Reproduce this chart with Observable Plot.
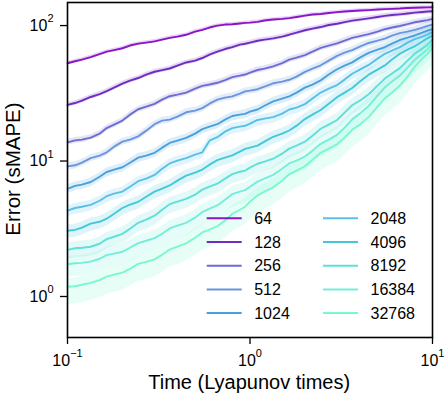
<!DOCTYPE html>
<html>
<head>
<meta charset="utf-8">
<script src="https://cdn.jsdelivr.net/npm/d3@7"></script>
<script src="https://cdn.jsdelivr.net/npm/@observablehq/plot@0.6"></script>
<style>
  html, body { margin: 0; padding: 0; background: #fff; }
  #chart svg { display: block; }
</style>
</head>
<body>
<div id="chart"></div>
<script>
const times = [0.1, 0.11, 0.12, 0.134, 0.15, 0.164, 0.18, 0.2, 0.22, 0.244, 0.27, 0.3, 0.33, 0.363, 0.4, 0.447, 0.5, 0.548, 0.6, 0.662, 0.73, 0.8, 0.88, 0.94, 1.0, 1.1, 1.2, 1.34, 1.5, 1.64, 1.8, 2.0, 2.2, 2.44, 2.7, 3.0, 3.3, 3.63, 4, 4.47, 5, 5.48, 6, 6.62, 7.3, 8.0, 8.8, 9.4, 10];

const sizes = ["64", "128", "256", "512", "1024", "2048", "4096", "8192", "16384", "32768"];

const err64    = [52.7, 54.5, 56.1, 58.5, 61.6, 64.2, 65.9, 68.0, 71.2, 73.5, 74.9, 76.5, 78.8, 81.2, 82.9, 85.5, 90.3, 93.0, 96.7, 99.8, 101.7, 102.2, 103.5, 104.6, 105.2, 106.5, 108.9, 110.8, 112.1, 113.5, 115.6, 118.4, 120.6, 121.8, 123.7, 125.6, 126.9, 128.2, 129.1, 130.0, 131.3, 132.3, 132.9, 133.6, 134.7, 135.4, 135.8, 136.2, 136.5];
const err128   = [25.95, 26.8, 27.9, 29.7, 31.2, 32.8, 34.8, 37.3, 39.2, 41.0, 43.5, 45.6, 46.9, 48.2, 50.6, 53.4, 55.1, 57.6, 61.0, 64.3, 67.1, 69.3, 72.4, 73.4, 74.9, 77.2, 78.8, 80.4, 82.9, 85.6, 88.8, 92.3, 95.0, 97.5, 100.9, 103.2, 106.1, 108.7, 110.7, 113.0, 115.6, 117.9, 119.6, 121.0, 122.7, 124.5, 125.9, 126.9, 127.6];
const err256   = [13.73, 14.2, 14.38, 14.9, 15.93, 17.5, 18.56, 19.9, 22.0, 24.1, 25.2, 26.4, 28.4, 30.1, 30.9, 32.0, 34.2, 35.9, 36.7, 37.8, 39.6, 41.6, 42.7, 43.5, 45.0, 47.0, 48.1, 50.0, 52.8, 56.0, 58.0, 60.5, 64.3, 68.4, 71.2, 73.8, 77.5, 81.2, 83.6, 86.4, 90.3, 94.0, 96.7, 99.2, 102.6, 105.8, 108.0, 109.7, 112.1];
const err512   = [9.13, 9.3, 9.72, 10.5, 10.95, 11.6, 12.76, 13.9, 14.38, 15.2, 16.76, 18.7, 19.87, 20.2, 21.27, 22.9, 23.55, 24.6, 26.5, 28.4, 29.4, 30.0, 31.45, 32.7, 33.1, 33.9, 35.4, 37.5, 38.6, 39.8, 42.0, 45.5, 48.1, 50.9, 55.1, 59.8, 63.2, 65.8, 70.0, 74.4, 77.5, 80.2, 84.4, 87.9, 90.3, 93.0, 96.7, 99.6, 101.7];
const err1024  = [6.22, 6.55, 6.69, 7.0, 7.66, 8.3, 8.63, 9.0, 9.72, 10.6, 10.95, 11.5, 12.55, 13.6, 14.14, 14.8, 15.93, 17.2, 17.94, 18.7, 20.21, 21.5, 22.0, 22.3, 23.15, 24.0, 25.6, 27.6, 28.9, 30.0, 32.0, 34.8, 36.7, 39.4, 43.5, 47.6, 50.6, 53.5, 58.0, 62.9, 66.5, 69.2, 73.6, 78.2, 81.5, 84.5, 88.8, 91.9, 94.2];
const err2048  = [4.30, 4.5, 4.60, 4.75, 5.09, 5.5, 5.74, 5.95, 6.46, 7.1, 7.41, 7.9, 8.78, 9.6, 10.06, 10.5, 11.14, 11.6, 14.14, 15.0, 16.48, 17.5, 17.94, 18.2, 18.88, 20.1, 20.56, 21.1, 22.38, 24.0, 24.8, 26.3, 28.9, 32.0, 34.2, 36.4, 39.9, 44.1, 47.3, 51.2, 57.0, 61.9, 65.4, 69.3, 74.9, 79.5, 82.9, 85.7, 89.5];
const err4096  = [3.06, 3.1, 3.22, 3.45, 3.56, 3.75, 4.08, 4.5, 4.76, 5.0, 5.45, 5.95, 6.25, 6.6, 7.16, 7.8, 8.20, 8.65, 9.40, 10.15, 10.59, 11.0, 11.73, 12.3, 12.55, 13.0, 13.90, 15.1, 15.93, 16.8, 18.25, 20.4, 22.0, 23.8, 26.5, 29.6, 32.0, 34.6, 38.6, 43.4, 47.3, 50.8, 56.1, 61.9, 66.5, 70.4, 76.2, 80.9, 84.4];
const err8192  = [2.21, 2.27, 2.29, 2.33, 2.45, 2.65, 2.76, 2.9, 3.16, 3.5, 3.69, 3.95, 4.37, 4.8, 5.01, 5.25, 5.64, 6.15, 6.46, 6.8, 7.41, 8.0, 8.34, 8.5, 8.93, 9.55, 9.89, 10.4, 11.33, 12.35, 12.98, 13.9, 15.39, 17.3, 18.56, 20.1, 22.76, 25.8, 27.9, 31.1, 36.0, 40.6, 44.2, 48.5, 55.1, 62.0, 67.6, 72.2, 78.8];
const err16384 = [1.73, 1.76, 1.77, 1.81, 1.90, 2.02, 2.07, 2.14, 2.29, 2.48, 2.58, 2.7, 2.90, 3.18, 3.33, 3.5, 3.82, 4.2, 4.45, 4.7, 5.18, 5.7, 5.94, 6.1, 6.46, 7.05, 7.41, 7.9, 8.78, 9.6, 10.06, 10.8, 11.93, 13.4, 14.38, 15.6, 17.64, 20.3, 22.38, 25.5, 30.4, 34.9, 38.6, 42.7, 48.9, 56.0, 62.1, 66.9, 73.6];
const err32768 = [1.18, 1.19, 1.22, 1.26, 1.32, 1.4, 1.45, 1.5, 1.60, 1.74, 1.80, 1.88, 2.03, 2.22, 2.33, 2.47, 2.71, 2.97, 3.11, 3.3, 3.63, 4.08, 4.37, 4.6, 5.01, 5.58, 5.94, 6.4, 7.16, 7.98, 8.49, 9.15, 10.23, 11.5, 12.34, 13.3, 14.88, 17.0, 18.56, 21.1, 25.2, 29.0, 32.0, 36.0, 42.0, 49.8, 57.0, 61.8, 68.8];

// spread of the shaded band (ratio to the line)
const bandLow  = [0.97, 0.96, 0.95, 0.94, 0.92, 0.90, 0.88, 0.85, 0.80, 0.74];
const bandHigh = [1.03, 1.04, 1.05, 1.06, 1.07, 1.08, 1.10, 1.12, 1.14, 1.15];

const xTicks = [0.1, 1, 10];
const yTicks = [1, 10, 100];

const colors = ["#8a14c8", "#6e2cc4", "#6c6cd4", "#6896e0", "#48a0dc", "#58c0e8", "#44c8d8", "#5ee0d8", "#74eed8", "#78f8d0"];

const seriesValues = [err64, err128, err256, err512, err1024, err2048, err4096, err8192, err16384, err32768];

const rows = [];
seriesValues.forEach((vals, si) => {
  vals.forEach((v, i) => {
    rows.push({size: sizes[si], t: times[i], err: v, lo: v * bandLow[si], hi: v * bandHigh[si]});
  });
});

const font = "'Liberation Sans', Arial, Helvetica, sans-serif";

const plot = Plot.plot({
  width: 448,
  height: 395,
  marginLeft: 67,
  marginRight: 16,
  marginTop: 2,
  marginBottom: 58,
  style: {fontFamily: font, fontSize: "16px", color: "black", background: "white"},
  x: {type: "log", domain: [0.1, 10]},
  y: {type: "log", domain: [0.498, 148]},
  color: {domain: sizes, range: colors},
  marks: [
    Plot.areaY(rows, {x: "t", y1: "lo", y2: "hi", z: "size", fill: "size", fillOpacity: 0.18}),
    Plot.line(rows, {x: "t", y: "err", z: "size", stroke: "size", strokeWidth: 1.9}),
    Plot.frame({stroke: "black", strokeWidth: 1.6}),
    Plot.axisX({ticks: xTicks, tickSize: 7, tickPadding: 10, tickFormat: d => String(Math.round(Math.log10(d))), label: null, fontSize: 16, strokeWidth: 1.3}),
    Plot.axisY({ticks: yTicks, tickSize: 7, tickPadding: 7, tickFormat: d => String(Math.round(Math.log10(d))), label: null, fontSize: 16, strokeWidth: 1.3})
  ]
});

// render tick labels as 10 with superscript exponent
plot.querySelectorAll('g[aria-label="x-axis tick label"] text, g[aria-label="y-axis tick label"] text').forEach(t => {
  const e = t.textContent.replace("-", "\u2212");
  t.textContent = "10";
  const ts = document.createElementNS("http://www.w3.org/2000/svg", "tspan");
  ts.setAttribute("font-size", "11px");
  ts.setAttribute("dy", "-8.5");
  ts.textContent = e;
  t.appendChild(ts);
});

const svg = d3.select(plot);

// axis titles
svg.append("text")
  .attr("x", 249.2).attr("y", 389)
  .attr("text-anchor", "middle")
  .attr("font-family", font).attr("font-size", 20)
  .attr("fill", "black")
  .text("Time (Lyapunov times)");

svg.append("text")
  .attr("transform", "translate(20,169) rotate(-90)")
  .attr("text-anchor", "middle")
  .attr("font-family", font).attr("font-size", 20.5)
  .attr("fill", "black")
  .text("Error (sMAPE)");

// legend (two columns of five)
const leg = svg.append("g");
sizes.forEach((s, i) => {
  const col = Math.floor(i / 5), row = i % 5;
  const x0 = col === 0 ? 206.7 : 323;
  const yy = 218.3 + row * 23.7;
  leg.append("line")
    .attr("x1", x0).attr("x2", x0 + 35)
    .attr("y1", yy).attr("y2", yy)
    .attr("stroke", colors[i]).attr("stroke-width", 2);
  leg.append("text")
    .attr("x", x0 + 47.5).attr("y", yy + 5.6)
    .attr("text-anchor", "start")
    .attr("font-family", font).attr("font-size", 16)
    .attr("fill", "black")
    .text(s);
});

document.getElementById("chart").appendChild(plot);
</script>
</body>
</html>
